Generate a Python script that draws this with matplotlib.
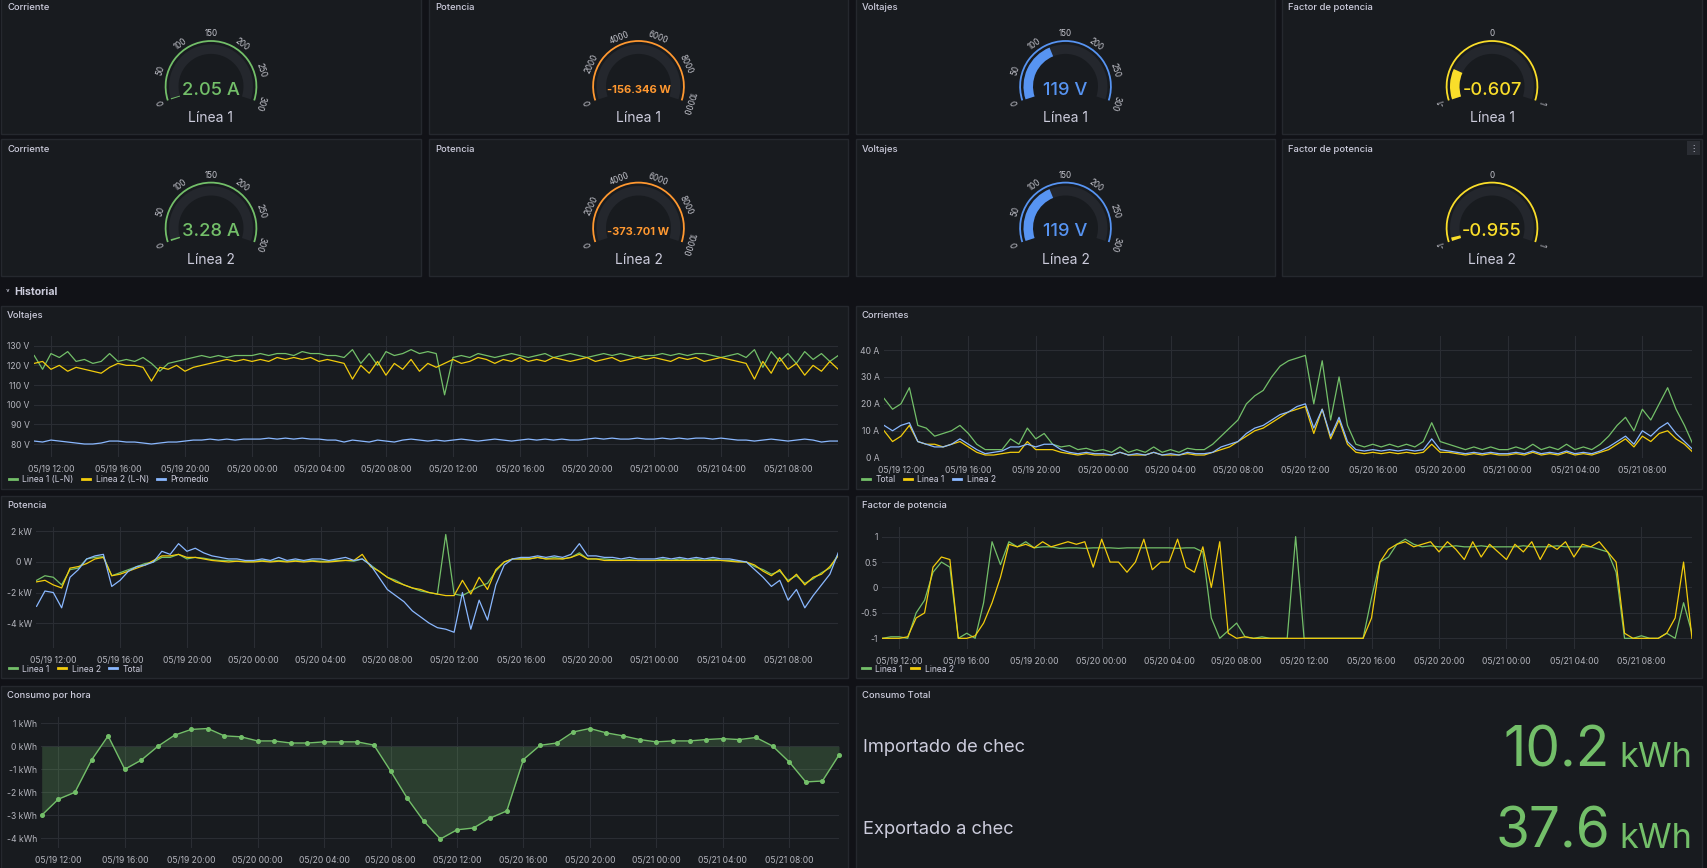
import numpy as np
import pandas as pd
import matplotlib
matplotlib.use('Agg')
import matplotlib.pyplot as plt
from matplotlib.patches import Wedge, Rectangle
from matplotlib.lines import Line2D

plt.rcParams['font.family'] = ['Inter', 'DejaVu Sans']

W, H = 1707, 868
PAGE = '#111217'
PANEL = '#181b1f'
BORDER = '#25282e'
TEXT = '#ccccdc'
TICK = '#b4b5bd'
GRID = '#2a2d33'
GREEN = '#73bf69'
YELLOW = '#f2cc0c'
BLUE = '#8ab8ff'

# ---------------- data ----------------
# gauges
gauge_titles = ['Corriente', 'Potencia', 'Voltajes', 'Factor de potencia']
gauge_colors = ['#73bf69', '#ff9830', '#5794f2', '#fade2a']
gauge_min = [0, 0, 0, -1]
gauge_max = [300, 10000, 300, 1]
gauge_ticks = [[0, 50, 100, 150, 200, 250, 300],
               [0, 2000, 4000, 6000, 8000, 10000],
               [0, 50, 100, 150, 200, 250, 300],
               [-1, 0, 1]]
gauge_units = [' A', ' W', ' V', '']
gauge_row1 = [2.05, -156.346, 119, -0.607]
gauge_row2 = [3.28, -373.701, 119, -0.955]
gauge_labels = ['Línea 1', 'Línea 2']

# time series, every 30 min from 05/19 11:00 to 05/21 11:00 (hours since 05/19 00:00)
t_start = 11.0
t30 = t_start + 0.5 * np.arange(97)
t60 = t_start + np.arange(49)

volt_l1 = [125, 118,
           126, 124, 127, 122, 123, 121, 122, 126, 122, 123, 122, 124, 121, 117, 121, 122,
           123, 124, 125, 124, 125, 124, 125, 125,
           125, 126, 125, 126, 126, 125, 127, 126, 126, 125, 125, 124,
           128, 121, 126, 120, 127, 125, 126, 128, 126, 127, 126, 105,
           124, 125, 124, 126, 125, 124, 125, 126, 125, 124, 125, 126, 124, 125, 126, 125,
           124, 125, 126, 125, 126, 125, 124, 125,
           125, 126, 125, 126, 125, 126, 126, 125, 124, 125, 126, 124,
           128, 119, 127, 122, 126, 121, 127, 123, 126, 122, 125]
volt_l2 = [121, 122,
           118, 120, 117, 119, 118, 117, 116, 119, 121, 120, 120, 119, 112, 119, 118, 120,
           117, 119, 120, 121, 122, 123, 122, 123,
           122, 123, 122, 124, 123, 124, 123, 124, 122, 123, 122, 121,
           113, 120, 116, 122, 115, 121, 118, 123, 117, 121, 119, 121,
           123, 121, 122, 124, 123, 121, 123, 122, 124, 122, 123, 122, 124, 123, 122, 123,
           124, 122, 123, 124, 122, 123, 124, 123,
           124, 123, 122, 124, 123, 124, 122, 123, 124, 123, 122, 121,
           113, 122, 116, 124, 118, 121, 115, 120, 117, 122, 118]
volt_avg = [81.5, 81,
            82, 81.5, 81, 80.5, 80, 80, 80.5, 81.5, 81.5, 81, 81, 80.5, 80, 80.5, 81, 81,
            81.5, 82, 82, 82.5, 82, 82.5, 82, 82.5,
            82.5, 82.5, 83, 82.5, 83, 82.5, 83, 82.5, 82.5, 82, 82, 81,
            82, 81.5, 81, 82, 81.5, 81, 82, 82.5, 82, 81.5, 82, 81.5,
            82, 82.5, 82, 81.5, 82, 82.5, 82, 81.5, 82, 82.5, 82, 82.5, 82, 82.5, 82, 82,
            82.5, 83, 82.5, 83, 82.5, 82.5, 83, 82.5,
            82.5, 83, 82.5, 83, 82.5, 83, 83, 82.5, 83, 82.5, 82, 82,
            81.5, 82, 82.5, 82, 81.5, 82, 82.5, 82, 81, 81.5, 81.5]

curr_total = [22, 18,
              20, 26, 12, 11, 8, 9, 10, 12, 9, 5, 3, 3, 3, 7, 5, 11,
              7, 9, 5, 4, 4.5, 3, 3.5, 2.5,
              3, 2, 4, 2, 3, 2, 4, 2, 3, 2, 3.5, 3,
              3, 5, 8, 11, 14, 20, 23, 25, 30, 34, 36, 37,
              38, 20, 36, 14, 30, 12, 5, 4, 5, 4, 5, 4, 5, 4, 6, 13,
              6, 5, 4, 3, 4, 3, 4, 3,
              3, 4, 3, 5, 3, 4, 3, 5, 3, 4, 3, 5,
              8, 12, 15, 10, 18, 14, 20, 26, 18, 12, 5]
curr_l1 = [10, 6,
           8, 12, 6, 5, 5, 4, 5, 6, 4, 2, 1, 1, 1.5, 2, 2, 6,
           3, 3, 3, 2, 1.5, 1, 1.5, 1,
           1, 1, 2, 1, 1, 1, 2, 1, 1, 1, 1.5, 1,
           1, 2, 3, 4, 6, 8, 10, 11, 13, 15, 17, 18,
           19, 9, 18, 7, 14, 5, 2, 1.5, 2, 1.5, 2, 1.5, 2, 1.5, 2, 5,
           2, 2, 1.5, 1, 1.5, 1, 1.5, 1,
           1, 1.5, 1, 2, 1, 1.5, 1, 2, 1, 1.5, 1, 2,
           3, 5, 7, 4, 8, 6, 9, 10, 7, 5, 2]
curr_l2 = [12, 10,
           12, 13, 6, 5, 4, 4, 5, 7, 5, 3, 1.5, 2, 2.5, 4, 4, 5,
           4, 5, 5, 3, 2, 1.5, 2, 1.5,
           1.5, 1, 2, 1, 1.5, 1, 2, 1, 1.5, 1, 2, 1.5,
           1.5, 2, 4, 5, 6, 9, 11, 12, 14, 16, 17, 19,
           20, 11, 18, 8, 15, 6, 3, 2.5, 3, 2.5, 3, 2.5, 3, 2.5, 3, 7,
           3, 2.5, 2, 1.5, 2, 1.5, 2, 1.5,
           1.5, 2, 1.5, 2.5, 1.5, 2, 1.5, 2.5, 1.5, 2, 1.5, 2.5,
           4, 6, 8, 5, 10, 8, 11, 13, 9, 6, 3]

pow_l1 = [-1.2, -0.9,
          -1.0, -1.5, -0.5, -0.4, 0.2, 0.3, 0.35, -0.9, -0.7, -0.5, -0.3, -0.1, 0.0, 0.3, 0.3, 0.5,
          0.2, 0.3, 0.25, 0.15, 0.1, 0.1, 0.05, 0.05,
          0.05, 0.1, 0.05, 0.1, 0.05, 0.1, 0.05, 0.1, 0.05, 0.05, 0.1, 0.1,
          0.05, 0.2, -0.2, -0.6, -1.0, -1.2, -1.5, -1.7, -1.9, -2.0, -2.1, 1.8,
          -2.1, -2.2, -1.9, -1.6, -1.4, -0.6, 0.0, 0.2, 0.2, 0.2, 0.3, 0.2, 0.3, 0.2, 0.3, 0.6,
          0.2, 0.2, 0.2, 0.15, 0.1, 0.15, 0.1, 0.1,
          0.1, 0.2, 0.1, 0.2, 0.1, 0.2, 0.1, 0.2, 0.1, 0.1, 0.05, 0.0,
          -0.3, -0.5, -0.8, -0.6, -1.2, -0.9, -1.4, -1.1, -0.7, -0.4, 0.5]
pow_l2 = [-1.3, -1.2,
          -1.5, -1.7, -0.4, -0.3, -0.1, 0.2, 0.3, -0.9, -0.8, -0.6, -0.4, -0.2, 0.1, 0.4, 0.4, 0.5,
          0.3, 0.3, 0.2, 0.1, 0.05, 0.0, 0.05, 0.0,
          0.0, 0.05, 0.0, 0.05, 0.0, 0.05, 0.0, 0.05, 0.0, 0.0, 0.05, 0.1,
          0.1, 0.5, -0.3, -0.6, -1.0, -1.3, -1.5, -1.7, -1.8, -2.0, -2.1, -2.2,
          -2.2, -1.2, -2.1, -1.0, -1.8, -0.5, 0.0, 0.2, 0.2, 0.2, 0.3, 0.2, 0.2, 0.2, 0.3, 0.5,
          0.2, 0.2, 0.1, 0.1, 0.1, 0.1, 0.1, 0.1,
          0.1, 0.1, 0.1, 0.1, 0.1, 0.1, 0.1, 0.1, 0.1, 0.05, 0.0, 0.0,
          -0.2, -0.6, -0.9, -0.5, -1.3, -0.8, -1.5, -1.0, -0.8, -0.3, 0.4]
pow_total = [-2.9, -1.9,
             -2.0, -3.0, -1.0, -0.5, 0.2, 0.4, 0.5, -1.6, -1.2, -0.6, -0.3, -0.2, 0.0, 0.7, 0.5, 1.2,
             0.7, 0.9, 0.6, 0.4, 0.3, 0.2, 0.2, 0.1,
             0.1, 0.2, 0.1, 0.3, 0.1, 0.2, 0.1, 0.2, 0.2, 0.1, 0.2, 0.3,
             0.1, 0.2, -0.2, -1.0, -1.8, -2.2, -2.6, -3.2, -3.6, -4.0, -4.3, -4.4,
             -4.6, -2.0, -4.4, -2.5, -3.8, -1.5, -0.2, 0.2, 0.3, 0.3, 0.4, 0.3, 0.4, 0.3, 0.5, 1.2,
             0.4, 0.4, 0.3, 0.3, 0.2, 0.3, 0.2, 0.2,
             0.2, 0.3, 0.2, 0.3, 0.2, 0.3, 0.2, 0.3, 0.2, 0.2, 0.1, 0.0,
             -0.5, -1.0, -1.6, -1.2, -2.5, -1.8, -3.0, -2.2, -1.5, -0.8, 0.6]

pf_l1 = [-1, -0.97,
         -0.97, -1, -0.5, -0.25, 0.3, 0.5, 0.4, -1, -0.9, -1, -0.3, 0.9, 0.45, 0.9,
         0.8, 0.9, 0.78, 0.8, 0.8, 0.77, 0.78, 0.78, 0.77, 0.78,
         0.78, 0.78, 0.77, 0.78, 0.78, 0.78, 0.78, 0.78, 0.78, 0.77, 0.78, 0.78,
         0.7, -0.6, -1, -0.85, -0.7, -0.97, -1, -0.97, -1, -1, -1, 1.0,
         -1, -1, -1, -1, -1, -1, -1, -1, -0.2, 0.5, 0.6, 0.85, 0.95, 0.85, 0.8, 0.82,
         0.8, 0.8, 0.82, 0.8, 0.8, 0.82, 0.8, 0.8,
         0.8, 0.8, 0.82, 0.8, 0.8, 0.8, 0.82, 0.8, 0.8, 0.8, 0.8, 0.75,
         0.7, 0.3, -1, -1, -0.95, -1, -1, -0.9, -1, -0.3, -0.9]
pf_l2 = [-1, -1,
         -1, -0.97, -0.6, -0.5, 0.4, 0.6, 0.55, -1, -1, -0.95, -0.7, -0.3, 0.2, 0.85,
         0.8, 0.85, 0.78, 0.9, 0.8, 0.85, 0.9, 0.85, 0.9, 0.4,
         0.95, 0.5, 0.5, 0.3, 0.5, 0.95, 0.35, 0.5, 0.5, 0.95, 0.4, 0.3,
         0.8, 0.0, 0.9, -0.9, -1, -0.97, -1, -1, -1, -1, -1, -1,
         -1, -1, -1, -1, -1, -1, -1, -1, -0.6, 0.5, 0.75, 0.85, 0.9, 0.8, 0.85, 0.9,
         0.7, 0.9, 0.75, 0.55, 0.9, 0.6, 0.85, 0.7,
         0.55, 0.85, 0.7, 0.9, 0.55, 0.85, 0.75, 0.9, 0.6, 0.85, 0.8, 0.9,
         0.7, 0.5, -0.9, -1, -1, -1, -1, -0.9, -0.6, 0.5, -1]

# hourly consumption (kWh), 05/19 11:00 .. 05/21 11:00
cons_hour = [-3.0, -2.3, -2.0, -0.6, 0.45, -1.0, -0.6, 0.0, 0.48, 0.73, 0.77, 0.45, 0.41,
             0.23, 0.23, 0.14, 0.14, 0.19, 0.19, 0.19, 0.05, -1.07, -2.25, -3.25,
             -4.03, -3.63, -3.55, -3.12, -2.81, -0.58, 0.04, 0.14, 0.62, 0.77, 0.58, 0.45,
             0.29, 0.19, 0.23, 0.23, 0.29, 0.33, 0.29, 0.38, 0.01, -0.68, -1.55, -1.51, -0.38]

stat_labels = ['Importado de chec', 'Exportado a chec']
stat_values = [10.2, 37.6]

# ---------------- figure ----------------
fig = plt.figure(figsize=(W / 100, H / 100), dpi=100, facecolor=PAGE)
bg = fig.add_axes([0, 0, 1, 1], zorder=-1)
bg.set_xlim(0, W)
bg.set_ylim(0, H)
bg.axis('off')


def Y(y):
    return H - y


def panel(x0, y0, x1, y1, title):
    bg.add_patch(Rectangle((x0, Y(y1)), x1 - x0, y1 - y0, facecolor=PANEL,
                           edgecolor=BORDER, lw=1))
    bg.text(x0 + 6, Y(y0 + 10), title, fontsize=6.8, color=TEXT, va='center',
            ha='left', fontweight='medium')


def fmt_tick(v):
    return str(int(v))


def gauge(cx, cy, i, value, label):
    vmin, vmax = gauge_min[i], gauge_max[i]
    color = gauge_colors[i]
    a0, a1 = 198.0, -18.0

    def ang(v):
        return a0 - (v - vmin) / (vmax - vmin) * (a0 - a1)

    c = (cx, Y(cy))
    bg.add_patch(Wedge(c, 46.3, a1, a0, width=1.8, facecolor=color, lw=0))
    bg.add_patch(Wedge(c, 42.0, a1, a0, width=9.5, facecolor='#24272d', lw=0))
    av = ang(min(max(value, vmin), vmax))
    if av < a0:
        bg.add_patch(Wedge(c, 42.0, av, a0, width=9.5, facecolor=color, lw=0))
    for tv in gauge_ticks[i]:
        a = ang(tv)
        r = np.radians(a)
        bg.text(cx + 52.5 * np.cos(r), Y(cy) + 52.5 * np.sin(r), fmt_tick(tv),
                rotation=a - 90, rotation_mode='anchor', ha='center', va='center',
                fontsize=5.8, color='#c4c5cd')
    if vmax >= 1000:
        txt = f'{value:.3f}{gauge_units[i]}'
        bg.text(cx, Y(cy + 4), txt, fontsize=8, color=color, ha='center',
                va='center', fontweight='bold')
    else:
        txt = f'{value:g}{gauge_units[i]}'
        bg.text(cx, Y(cy + 4), txt, fontsize=13.2, color=color, ha='center',
                va='center', fontweight='medium')
    bg.text(cx, Y(cy + 32), label, fontsize=10, color=TEXT, ha='center', va='center')


cols = [(1, 421), (429, 848), (856, 1275), (1282, 1702)]
rows = [(-3, 134, 86.4, gauge_row1, gauge_labels[0]),
        (139, 276, 228.0, gauge_row2, gauge_labels[1])]
for (y0, y1, cy, vals, lab) in rows:
    for i, (x0, x1) in enumerate(cols):
        panel(x0, y0, x1, y1, gauge_titles[i])
        gauge((x0 + x1) / 2, cy, i, vals[i], lab)

# menu icon on last gauge
bg.add_patch(Rectangle((1687, Y(155)), 13, 14, facecolor='#2a2d33', lw=0))
bg.text(1693.5, Y(148), '⋮', fontsize=6, color=TEXT, ha='center', va='center')

# row header
bg.text(6, Y(292), '˅', fontsize=6, color=TEXT, ha='left', va='center')
bg.text(14, Y(292), 'Historial', fontsize=7.6, color=TEXT, ha='left', va='center',
        fontweight='bold')

# panels of the history section
panel(1, 306, 848, 489, 'Voltajes')
panel(856, 306, 1702, 489, 'Corrientes')
panel(1, 496, 848, 678, 'Potencia')
panel(856, 496, 1702, 678, 'Factor de potencia')
panel(1, 686, 848, 875, 'Consumo por hora')
panel(856, 686, 1702, 875, 'Consumo Total')

xt = np.arange(12, 57, 4)
xlabels = (pd.Timestamp('2024-05-19') + pd.to_timedelta(xt, unit='h')).strftime('%m/%d %H:%M')


def ts_axes(x0, x1, y0, y1, ylim, yticks, ylabels):
    ax = fig.add_axes([x0 / W, 1 - y1 / H, (x1 - x0) / W, (y1 - y0) / H])
    ax.set_facecolor('none')
    for s in ax.spines.values():
        s.set_visible(False)
    ax.set_xlim(10.97, 58.97)
    ax.set_ylim(*ylim)
    ax.set_xticks(xt)
    ax.set_xticklabels(xlabels)
    ax.set_yticks(yticks)
    ax.set_yticklabels(ylabels)
    ax.grid(True, color=GRID, lw=0.8)
    ax.set_axisbelow(True)
    ax.tick_params(length=0, labelsize=6.2, labelcolor=TICK, pad=3)
    ax.tick_params(axis='x', pad=5.5)
    return ax


def legend(ax, colors, labels, x, y):
    hs = [Line2D([], [], color=c, lw=2) for c in colors]
    ax.legend(hs, labels, loc='center left', bbox_to_anchor=(x / W, 1 - y / H),
              bbox_transform=fig.transFigure, ncol=len(hs), frameon=False,
              fontsize=6.2, labelcolor=TEXT, handlelength=0.95, handletextpad=0.6,
              columnspacing=1.0, borderpad=0, borderaxespad=0)


# Voltajes
ax = ts_axes(33.7, 837.7, 336, 457, (73.39, 134.93), [80, 90, 100, 110, 120, 130],
             ['80 V', '90 V', '100 V', '110 V', '120 V', '130 V'])
ax.plot(t30, volt_l1, color=GREEN, lw=0.9)
ax.plot(t30, volt_l2, color=YELLOW, lw=0.9)
ax.plot(t30, volt_avg, color=BLUE, lw=0.9)
legend(ax, [GREEN, YELLOW, BLUE], ['Linea 1 (L-N)', 'Linea 2 (L-N)', 'Promedio'], 9, 479.3)

# Corrientes
ax = ts_axes(883.6, 1692.4, 336, 458, (-0.11, 45.2), [0, 10, 20, 30, 40],
             ['0 A', '10 A', '20 A', '30 A', '40 A'])
ax.plot(t30, curr_total, color=GREEN, lw=0.9)
ax.plot(t30, curr_l1, color=YELLOW, lw=0.9)
ax.plot(t30, curr_l2, color=BLUE, lw=0.9)
legend(ax, [GREEN, YELLOW, BLUE], ['Total', 'Linea 1', 'Linea 2'], 862, 479.3)

# Potencia
ax = ts_axes(36.1, 837.7, 527, 648, (-5.63, 2.29),
             [-4, -2, 0, 2], ['-4 kW', '-2 kW', '0 W', '2 kW'])
ax.plot(t30, pow_l1, color=GREEN, lw=0.9)
ax.plot(t30, pow_l2, color=YELLOW, lw=0.9)
ax.plot(t30, pow_total, color=BLUE, lw=0.9)
legend(ax, [GREEN, YELLOW, BLUE], ['Linea 1', 'Linea 2', 'Total'], 9, 669)

# Factor de potencia
ax = ts_axes(881.9, 1691.5, 527, 649, (-1.21, 1.19), [-1, -0.5, 0, 0.5, 1],
             ['-1', '-0.5', '0', '0.5', '1'])
ax.plot(t30, pf_l1, color=GREEN, lw=0.9)
ax.plot(t30, pf_l2, color=YELLOW, lw=0.9)
legend(ax, [GREEN, YELLOW], ['Linea 1', 'Linea 2'], 862, 669)

# Consumo por hora
ax = ts_axes(41.2, 838.5, 717, 848, (-4.42, 1.27), [-4, -3, -2, -1, 0, 1],
             ['-4 kWh', '-3 kWh', '-2 kWh', '-1 kWh', '0 kWh', '1 kWh'])
ax.fill_between(t60, cons_hour, 0, color=GREEN, alpha=0.22, lw=0)
ax.plot(t60, cons_hour, color=GREEN, lw=1, marker='o', ms=2.6, clip_on=False)

# Consumo Total
label_y = [747.3, 830]
base_y = [766.7, 848]
for lab, val, ly, by in zip(stat_labels, stat_values, label_y, base_y):
    bg.text(863, Y(ly), lab, fontsize=13.2, color=TEXT, ha='left', va='center')
    bg.text(1610, Y(by), f'{val:.1f}', fontsize=39.6, color=GREEN, ha='right',
            va='baseline')
    bg.text(1692, Y(by), 'kWh', fontsize=24.7, color=GREEN, ha='right', va='baseline')

fig.savefig('out.png', dpi=100, facecolor=PAGE)
